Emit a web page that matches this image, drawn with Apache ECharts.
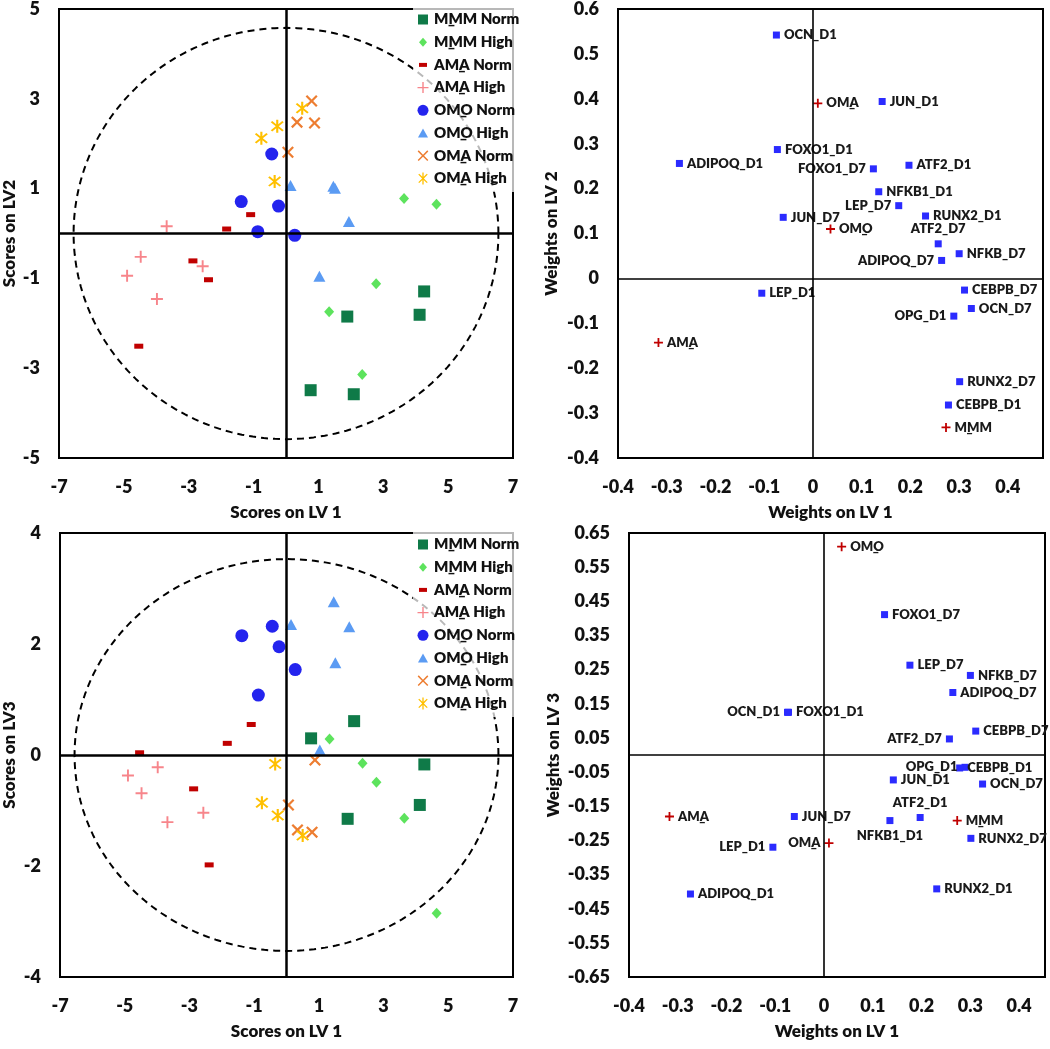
<!DOCTYPE html>
<html><head><meta charset="utf-8">
<script src="https://cdn.jsdelivr.net/npm/echarts@6/dist/echarts.min.js"></script>
<style>html,body{margin:0;padding:0;background:#fff}#c{width:1050px;height:1049px}</style>
</head><body><div id="c"></div><script>
// ---------- DATA ----------
const groupNames = ['M\u0332MM Norm','M\u0332MM High','AM\u0332A Norm','AM\u0332A High','OM\u0332O Norm','OM\u0332O High','OM\u0332A Norm','OM\u0332A High'];
// scores (one inner array per group, same order as groupNames)
const scoreLV1 = [
  [0.76, 2.09, 4.26, 4.12, 1.89],
  [1.33, 2.35, 2.78, 3.64, 4.64],
  [-1.09, -1.83, -4.54, -2.87, -2.39],
  [-3.68, -4.48, -4.90, -2.57, -3.98],
  [-0.44, -1.38, -0.23, -0.87, 0.27],
  [0.14, 1.46, 1.51, 1.94, 1.03],
  [0.06, 0.34, 0.79, 0.88],
  [-0.76, -0.27, 0.50, -0.35]
];
const scoreLV2 = [
  [-3.49, -3.58, -1.29, -1.81, -1.85],
  [-1.74, -3.14, -1.12, 0.78, 0.65],
  [0.42, 0.10, -2.51, -0.61, -1.03],
  [0.16, -0.52, -0.94, -0.73, -1.46],
  [1.77, 0.71, 0.61, 0.04, -0.04],
  [1.07, 1.05, 1.01, 0.27, -0.95],
  [1.81, 2.48, 2.95, 2.46],
  [2.12, 2.39, 2.79, 1.16]
];
const scoreLV3 = [
  [0.30, 0.61, -0.17, -0.90, -1.15],
  [0.29, -0.15, -0.49, -1.14, -2.85],
  [0.55, 0.21, 0.04, -0.61, -1.98],
  [-1.21, -0.69, -0.37, -1.04, -0.22],
  [2.32, 2.15, 1.95, 1.08, 1.54],
  [2.35, 2.76, 1.66, 2.31, 0.09],
  [-0.90, -1.35, -1.39, -0.09],
  [-0.86, -1.09, -1.45, -0.16]
];
// confidence ellipse radii (LV1, LVn)
const ellipseLV12 = [6.55, 4.58];
const ellipseLV13 = [6.55, 3.53];

// variable weights
const varNames = ['OCN_D1','JUN_D1','FOXO1_D1','ADIPOQ_D1','FOXO1_D7','ATF2_D1','NFKB1_D1','LEP_D7','RUNX2_D1','JUN_D7','ATF2_D7','NFKB_D7','ADIPOQ_D7','LEP_D1','CEBPB_D7','OCN_D7','OPG_D1','RUNX2_D7','CEBPB_D1'];
const varW1 = [-0.075, 0.142, -0.073, -0.274, 0.124, 0.197, 0.135, 0.176, 0.231, -0.061, 0.257, 0.300, 0.264, -0.105, 0.311, 0.325, 0.289, 0.301, 0.278];
const varW2 = [0.542, 0.394, 0.287, 0.256, 0.244, 0.252, 0.193, 0.162, 0.139, 0.136, 0.077, 0.055, 0.040, -0.033, -0.026, -0.067, -0.084, -0.230, -0.282];
const varW3 = [0.125, -0.073, 0.125, -0.407, 0.411, -0.183, -0.192, 0.263, -0.392, -0.180, 0.047, 0.233, 0.183, -0.270, 0.070, -0.085, -0.036, -0.244, -0.038];
// class weights
const clsNames = ['OM\u0332A','OM\u0332O','AM\u0332A','M\u0332MM'];
const clsW1 = [0.010, 0.036, -0.317, 0.273];
const clsW2 = [0.390, 0.110, -0.143, -0.332];
const clsW3 = [-0.258, 0.610, -0.180, -0.192];

// ---------- STYLE ----------
const FONT = 'Lato';
const labelSide12 = {FOXO1_D7:'left', LEP_D7:'left', ATF2_D7:'top', ADIPOQ_D7:'left', OPG_D1:'left'};
const labelSide13 = {OCN_D1:'left', ATF2_D7:'left', OPG_D1:'left', ATF2_D1:'top', NFKB1_D1:'bottom', LEP_D1:'left', 'OM\u0332A':'left'};

function starPts(angles, L, h) {
  const pts = [];
  const n = angles.length;
  for (let i = 0; i < n; i++) {
    const a = angles[i] * Math.PI / 180, b = angles[(i + 1) % n] * Math.PI / 180;
    let d = b - a; if (d <= 0) d += 2 * Math.PI;
    const ca = Math.cos(a), sa = Math.sin(a);
    pts.push([L * ca + h * sa, L * sa - h * ca]);
    pts.push([L * ca - h * sa, L * sa + h * ca]);
    const m = a + d / 2, r = h / Math.sin(d / 2);
    pts.push([r * Math.cos(m), r * Math.sin(m)]);
  }
  return pts;
}
function starPath(angles, L, h) {
  return 'path://M' + starPts(angles, L, h).map(p => (p[0] + L).toFixed(3) + ',' + (p[1] + L).toFixed(3)).join('L') + 'Z';
}
// icon inside a 12x12 box (padded with invisible move-to corners)
function starIcon(angles, L, h) {
  return 'path://M0,0M12,12M' + starPts(angles, L, h).map(p => (p[0] + 6).toFixed(3) + ',' + (p[1] + 6).toFixed(3)).join('L') + 'Z';
}
const PLUS = starPath([0, 90, 180, 270], 10, 1.6);
const REDPLUS = starPath([0, 90, 180, 270], 10, 2.0);
const XMARK = starPath([45, 135, 225, 315], 10, 1.5);
const ASTER = starPath([45, 90, 135, 225, 270, 315], 10, 1.3);

const groupStyle = [
  {symbol: 'rect', size: 12, color: '#0f7a48'},
  {symbol: 'diamond', size: [10, 11], color: '#5de35d'},
  {symbol: 'rect', size: [9, 5], color: '#c00000'},
  {symbol: PLUS, size: 12, color: '#f7858b'},
  {symbol: 'circle', size: 13, color: '#2424ee'},
  {symbol: 'triangle', size: [12, 11], color: '#5b9bf3'},
  {symbol: XMARK, size: 12, color: '#ed7d31'},
  {symbol: ASTER, size: 13, color: '#ffc000'}
];
const legendIcons = [
  'path://M0,0M12,12M1,1h10v10h-10z',
  'path://M0,0M12,12M6,1.5L10,6L6,10.5L2,6Z',
  'path://M0,0M12,12M2,4h8v4h-8z',
  starIcon([0, 90, 180, 270], 5.5, 0.7),
  'path://M0,0M12,12M11.5,6A5.5,5.5,0,1,1,0.5,6A5.5,5.5,0,1,1,11.5,6Z',
  'path://M0,0M12,12M6,1.5L11,10.5L1,10.5Z',
  starIcon([45, 135, 225, 315], 6.8, 0.75),
  starIcon([45, 90, 135, 225, 270, 315], 6.5, 0.7)
];

const W = 800;
const tickFont = {fontFamily: FONT, fontWeight: W, fontSize: 18, color: '#111'};
const nameFont = {fontFamily: FONT, fontWeight: W, fontSize: 17, color: '#111'};

function oddInt(v) { return Math.abs(Math.round(v)) % 2 === 1 ? String(Math.round(v)) : ''; }
function tenth(v) {
  const k = Math.round(v * 10);
  if (Math.abs(v * 10 - k) > 1e-6 || v > 0.4001) return '';
  return k === 0 ? '0' : (k / 10).toFixed(1);
}
function tenthAll(v) {
  const k = Math.round(v * 10);
  return k === 0 ? '0' : (k / 10).toFixed(1);
}
function fiveHundredth(v) {
  const k = Math.round(v * 100);
  return Math.abs(k) % 10 === 5 ? (k / 100).toFixed(2) : '';
}

function ellipse(r) {
  const pts = [];
  for (let i = 0; i <= 240; i++) {
    const t = i / 240 * 2 * Math.PI;
    pts.push([r[0] * Math.cos(t), r[1] * Math.sin(t)]);
  }
  return pts;
}
function zeroLines(w) {
  return {
    silent: true, symbol: 'none', label: {show: false},
    lineStyle: {color: '#000', width: w, type: 'solid'},
    emphasis: {disabled: true},
    data: [{xAxis: 0}, {yAxis: 0}]
  };
}

const series = [];
[[0, scoreLV2, ellipseLV12], [2, scoreLV3, ellipseLV13]].forEach(([gi, ys, er]) => {
  series.push({
    type: 'line', name: 'ellipse' + gi, xAxisIndex: gi, yAxisIndex: gi,
    data: ellipse(er), showSymbol: false, silent: true, z: 1,
    lineStyle: {color: '#000', width: 2, type: [7, 5]},
    markLine: zeroLines(2.5)
  });
  groupNames.forEach((g, k) => {
    series.push({
      type: 'scatter', name: g, xAxisIndex: gi, yAxisIndex: gi,
      symbol: groupStyle[k].symbol, symbolSize: groupStyle[k].size,
      itemStyle: {color: groupStyle[k].color, opacity: 1},
      data: scoreLV1[k].map((x, i) => [x, ys[k][i]]), z: 3
    });
  });
});

function labelCfg(pos) {
  return {show: true, position: pos || 'right', distance: pos === 'top' || pos === 'bottom' ? 5 : 4,
    formatter: '{b}', fontFamily: FONT, fontWeight: W, fontSize: 13, color: '#1a1a1a'};
}
[[1, varW2, clsW2, labelSide12], [3, varW3, clsW3, labelSide13]].forEach(([gi, vy, cy, side]) => {
  series.push({
    type: 'line', name: 'zero' + gi, xAxisIndex: gi, yAxisIndex: gi, data: [],
    markLine: zeroLines(1.6), silent: true
  });
  series.push({
    type: 'scatter', name: 'genes' + gi, xAxisIndex: gi, yAxisIndex: gi,
    symbol: 'rect', symbolSize: 7, itemStyle: {color: '#2b2bff', opacity: 1},
    data: varNames.map((n, i) => ({name: n, value: [varW1[i], vy[i]], label: labelCfg(side[n])})), z: 3
  });
  series.push({
    type: 'scatter', name: 'classes' + gi, xAxisIndex: gi, yAxisIndex: gi,
    symbol: REDPLUS, symbolSize: 9, itemStyle: {color: '#c00000', opacity: 1},
    data: clsNames.map((n, i) => ({name: n, value: [clsW1[i], cy[i]], label: labelCfg(side[n])})), z: 3
  });
});

function xAx(gi, min, max, interval, fmt, name, gap) {
  return {type: 'value', gridIndex: gi, min, max, interval,
    axisLine: {show: false}, axisTick: {show: false}, splitLine: {show: false},
    axisLabel: Object.assign({formatter: fmt, margin: 20, showMinLabel: true, showMaxLabel: true}, tickFont),
    name, nameLocation: 'middle', nameGap: gap, nameTextStyle: nameFont};
}
function yAx(gi, min, max, interval, fmt, name, gap) {
  return {type: 'value', gridIndex: gi, min, max, interval,
    axisLine: {show: false}, axisTick: {show: false}, splitLine: {show: false},
    axisLabel: Object.assign({formatter: fmt, margin: 19}, tickFont),
    name, nameLocation: 'middle', nameGap: gap, nameTextStyle: nameFont};
}

const legendBase = {
  orient: 'vertical', left: 413, itemWidth: 12, itemHeight: 12, itemGap: 7.7,
  padding: [6, 8, 6, 4], backgroundColor: 'rgba(255,255,255,0.72)',
  textStyle: {fontFamily: FONT, fontWeight: W, fontSize: 15, color: '#111'},
  data: groupNames.map((n, k) => ({name: n, icon: legendIcons[k]})), selectedMode: false, z: 10
};

const option = {
  animation: false,
  backgroundColor: '#fff',
  grid: [
    {left: 58, top: 7, width: 455, height: 451},
    {left: 618, top: 8, width: 425, height: 450},
    {left: 58, top: 533, width: 455, height: 444},
    {left: 629, top: 533, width: 416, height: 444}
  ].map(g => Object.assign({show: true, borderColor: '#000', borderWidth: 2, backgroundColor: 'transparent'}, g)),
  xAxis: [
    xAx(0, -7, 7, 1, oddInt, 'Scores on LV 1', 46),
    xAx(1, -0.4, 0.472, 0.1, tenth, 'Weights on LV 1', 46),
    xAx(2, -7, 7, 1, oddInt, 'Scores on LV 1', 46),
    xAx(3, -0.4, 0.453, 0.1, tenth, 'Weights on LV 1', 46)
  ],
  yAxis: [
    yAx(0, -5, 5, 1, oddInt, 'Scores on LV2', 41),
    yAx(1, -0.4, 0.6, 0.1, tenthAll, 'Weights on LV 2', 58),
    yAx(2, -4, 4, 2, v => String(Math.round(v)), 'Scores on LV3', 42),
    yAx(3, -0.65, 0.65, 0.05, fiveHundredth, 'Weights on LV 3', 67)
  ],
  legend: [
    Object.assign({top: 6}, legendBase),
    Object.assign({top: 531}, legendBase)
  ],
  series
};
const chart = echarts.init(document.getElementById('c'), null, {renderer: 'canvas'});
chart.setOption(option);
</script></body></html>
